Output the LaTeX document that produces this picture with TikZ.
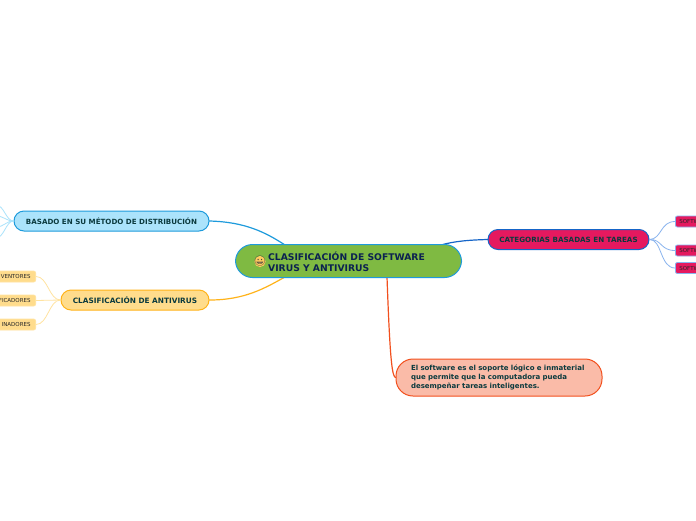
\documentclass[tikz,border=0pt]{standalone}
\usepackage{fontspec}
\setmainfont{DejaVu Sans}
\newfontfamily\emojifont{Noto Emoji}
\definecolor{cblue}{HTML}{1E9BDC}
\definecolor{cbluefill}{HTML}{ABE3FB}
\definecolor{cgold}{HTML}{FFB31A}
\definecolor{cgoldfill}{HTML}{FFDC8C}
\definecolor{cgoldleaf}{HTML}{FFE3A0}
\definecolor{cpink}{HTML}{E5195F}
\definecolor{cdeep}{HTML}{1565C8}
\definecolor{cleaf}{HTML}{8AB4EE}
\definecolor{cgreen}{HTML}{7FBA42}
\definecolor{csalmon}{HTML}{FABBA8}
\definecolor{cred}{HTML}{F2501E}
\definecolor{cink}{HTML}{0B3A3E}
\definecolor{cnavy}{HTML}{0B2150}
\tikzset{
  x=1pt,y=-1pt,
  pill/.style={rounded corners=#1,line width=1pt,inner sep=0pt,text=cink},
  link/.style={line width=1.2pt,line cap=round},
  twig/.style={line width=.8pt,line cap=round},
  leafbox/.style={rounded corners=2pt,line width=.8pt,inner sep=0pt,minimum height=11pt,font=\fontsize{5.5}{6}\selectfont,text=black!85},
}
\begin{document}
\begin{tikzpicture}
\useasboundingbox (0,0) rectangle (696,520);
\clip (0,0) rectangle (696,520);
\fill[white] (0,0) rectangle (696,520);
% named anchors for free ends
\coordinate (hubT) at (285,245);
\coordinate (hubB) at (285,277);
\coordinate (hubR) at (441,245);
\coordinate (hubD) at (387,277);
\coordinate (ta) at (-4,205);
\coordinate (tb) at (-4,216);
\coordinate (tc) at (-4,227);
\coordinate (td) at (-4,238);
% branches first
\node[pill=10pt,draw=cblue,fill=cbluefill,minimum width=195pt,minimum height=20pt,font=\bfseries\fontsize{7.12}{8.5}\selectfont] (dist) at (111.5,221) {BASADO EN SU MÉTODO DE DISTRIBUCIÓN};
\node[pill=10pt,draw=cgold,fill=cgoldfill,minimum width=148pt,minimum height=20pt,font=\bfseries\fontsize{7.35}{8.5}\selectfont] (anti) at (135,300) {CLASIFICACIÓN DE ANTIVIRUS};
\node[pill=10pt,draw=cdeep,fill=cpink,minimum width=161pt,minimum height=20pt,font=\bfseries\fontsize{7.15}{8.5}\selectfont] (cat) at (568.5,239.5) {CATEGORIAS BASADAS EN TAREAS};
\node[pill=17pt,draw=cred,fill=csalmon,minimum width=206pt,minimum height=37pt,text width=176pt,align=left,font=\bfseries\fontsize{7}{9}\selectfont] (def) at (499,377.5) {El software es el soporte lógico e inmaterial\\que permite que la computadora pueda\\desempeñar tareas inteligentes.};
% leaves
\node[leafbox,draw=cgoldleaf,fill=cgoldfill,minimum width=70pt,text width=60pt,align=right,anchor=east] (l1) at (36,276.5) {VENTORES};
\node[leafbox,draw=cgoldleaf,fill=cgoldfill,minimum width=70pt,text width=60pt,align=right,anchor=east] (l2) at (36,300.5) {IFICADORES};
\node[leafbox,draw=cgoldleaf,fill=cgoldfill,minimum width=70pt,text width=60pt,align=right,anchor=east] (l3) at (36,324.5) {INADORES};
\node[leafbox,draw=cleaf,fill=cpink,minimum width=70pt,text width=62pt,align=left,anchor=west] (r1) at (675,221.5) {SOFTW};
\node[leafbox,draw=cleaf,fill=cpink,minimum width=70pt,text width=62pt,align=left,anchor=west] (r2) at (675,250.5) {SOFTW};
\node[leafbox,draw=cleaf,fill=cpink,minimum width=70pt,text width=62pt,align=left,anchor=west] (r3) at (675,268) {SOFTW};
% connectors
\draw[link,draw=cblue] (dist.east) .. controls (245,222) and (265,232) .. (hubT);
\draw[link,draw=cgold] (anti.east) .. controls (245,300) and (265,288) .. (hubB);
\draw[link,draw=cdeep] (cat.west) .. controls (470,240) and (455,241) .. (hubR);
\draw[link,draw=cred] (def.west) .. controls (392,376) and (390,360) .. (hubD);
\foreach \t/\y in {ta/205,tb/216,tc/227,td/238} \draw[twig,draw=cbluefill] (dist.west) .. controls (6,221) and (4,\y) .. (\t);
\foreach \t/\y in {l1/276.5,l2/300.5,l3/324.5} \draw[twig,draw=cgoldleaf] (anti.west) .. controls (49,300) and (48,\y) .. (\t.east);
\foreach \t/\y in {r1/221.5,r2/250.5,r3/268} \draw[twig,draw=cleaf] (cat.east) .. controls (662,239) and (660,\y) .. (\t.west);
% hub
\node[pill=17pt,draw=cblue,fill=cgreen,minimum width=226pt,minimum height=33pt,inner sep=0pt] (hub) at (348.5,261) {};
\node[anchor=west,inner sep=0pt,align=left,font=\bfseries\fontsize{9.2}{11.2}\selectfont,text=cnavy] (hubtext) at (268,261.5) {CLASIFICACIÓN DE SOFTWARE\\VIRUS Y ANTIVIRUS};
\fill[cgoldfill!60!cgold,draw=none] (260,261.5) circle (5.6pt);
\node[inner sep=0pt,font=\emojifont\fontsize{10}{10}\selectfont,text=black!75] (emo) at (260,261.5) {😀};
\end{tikzpicture}
\end{document}
